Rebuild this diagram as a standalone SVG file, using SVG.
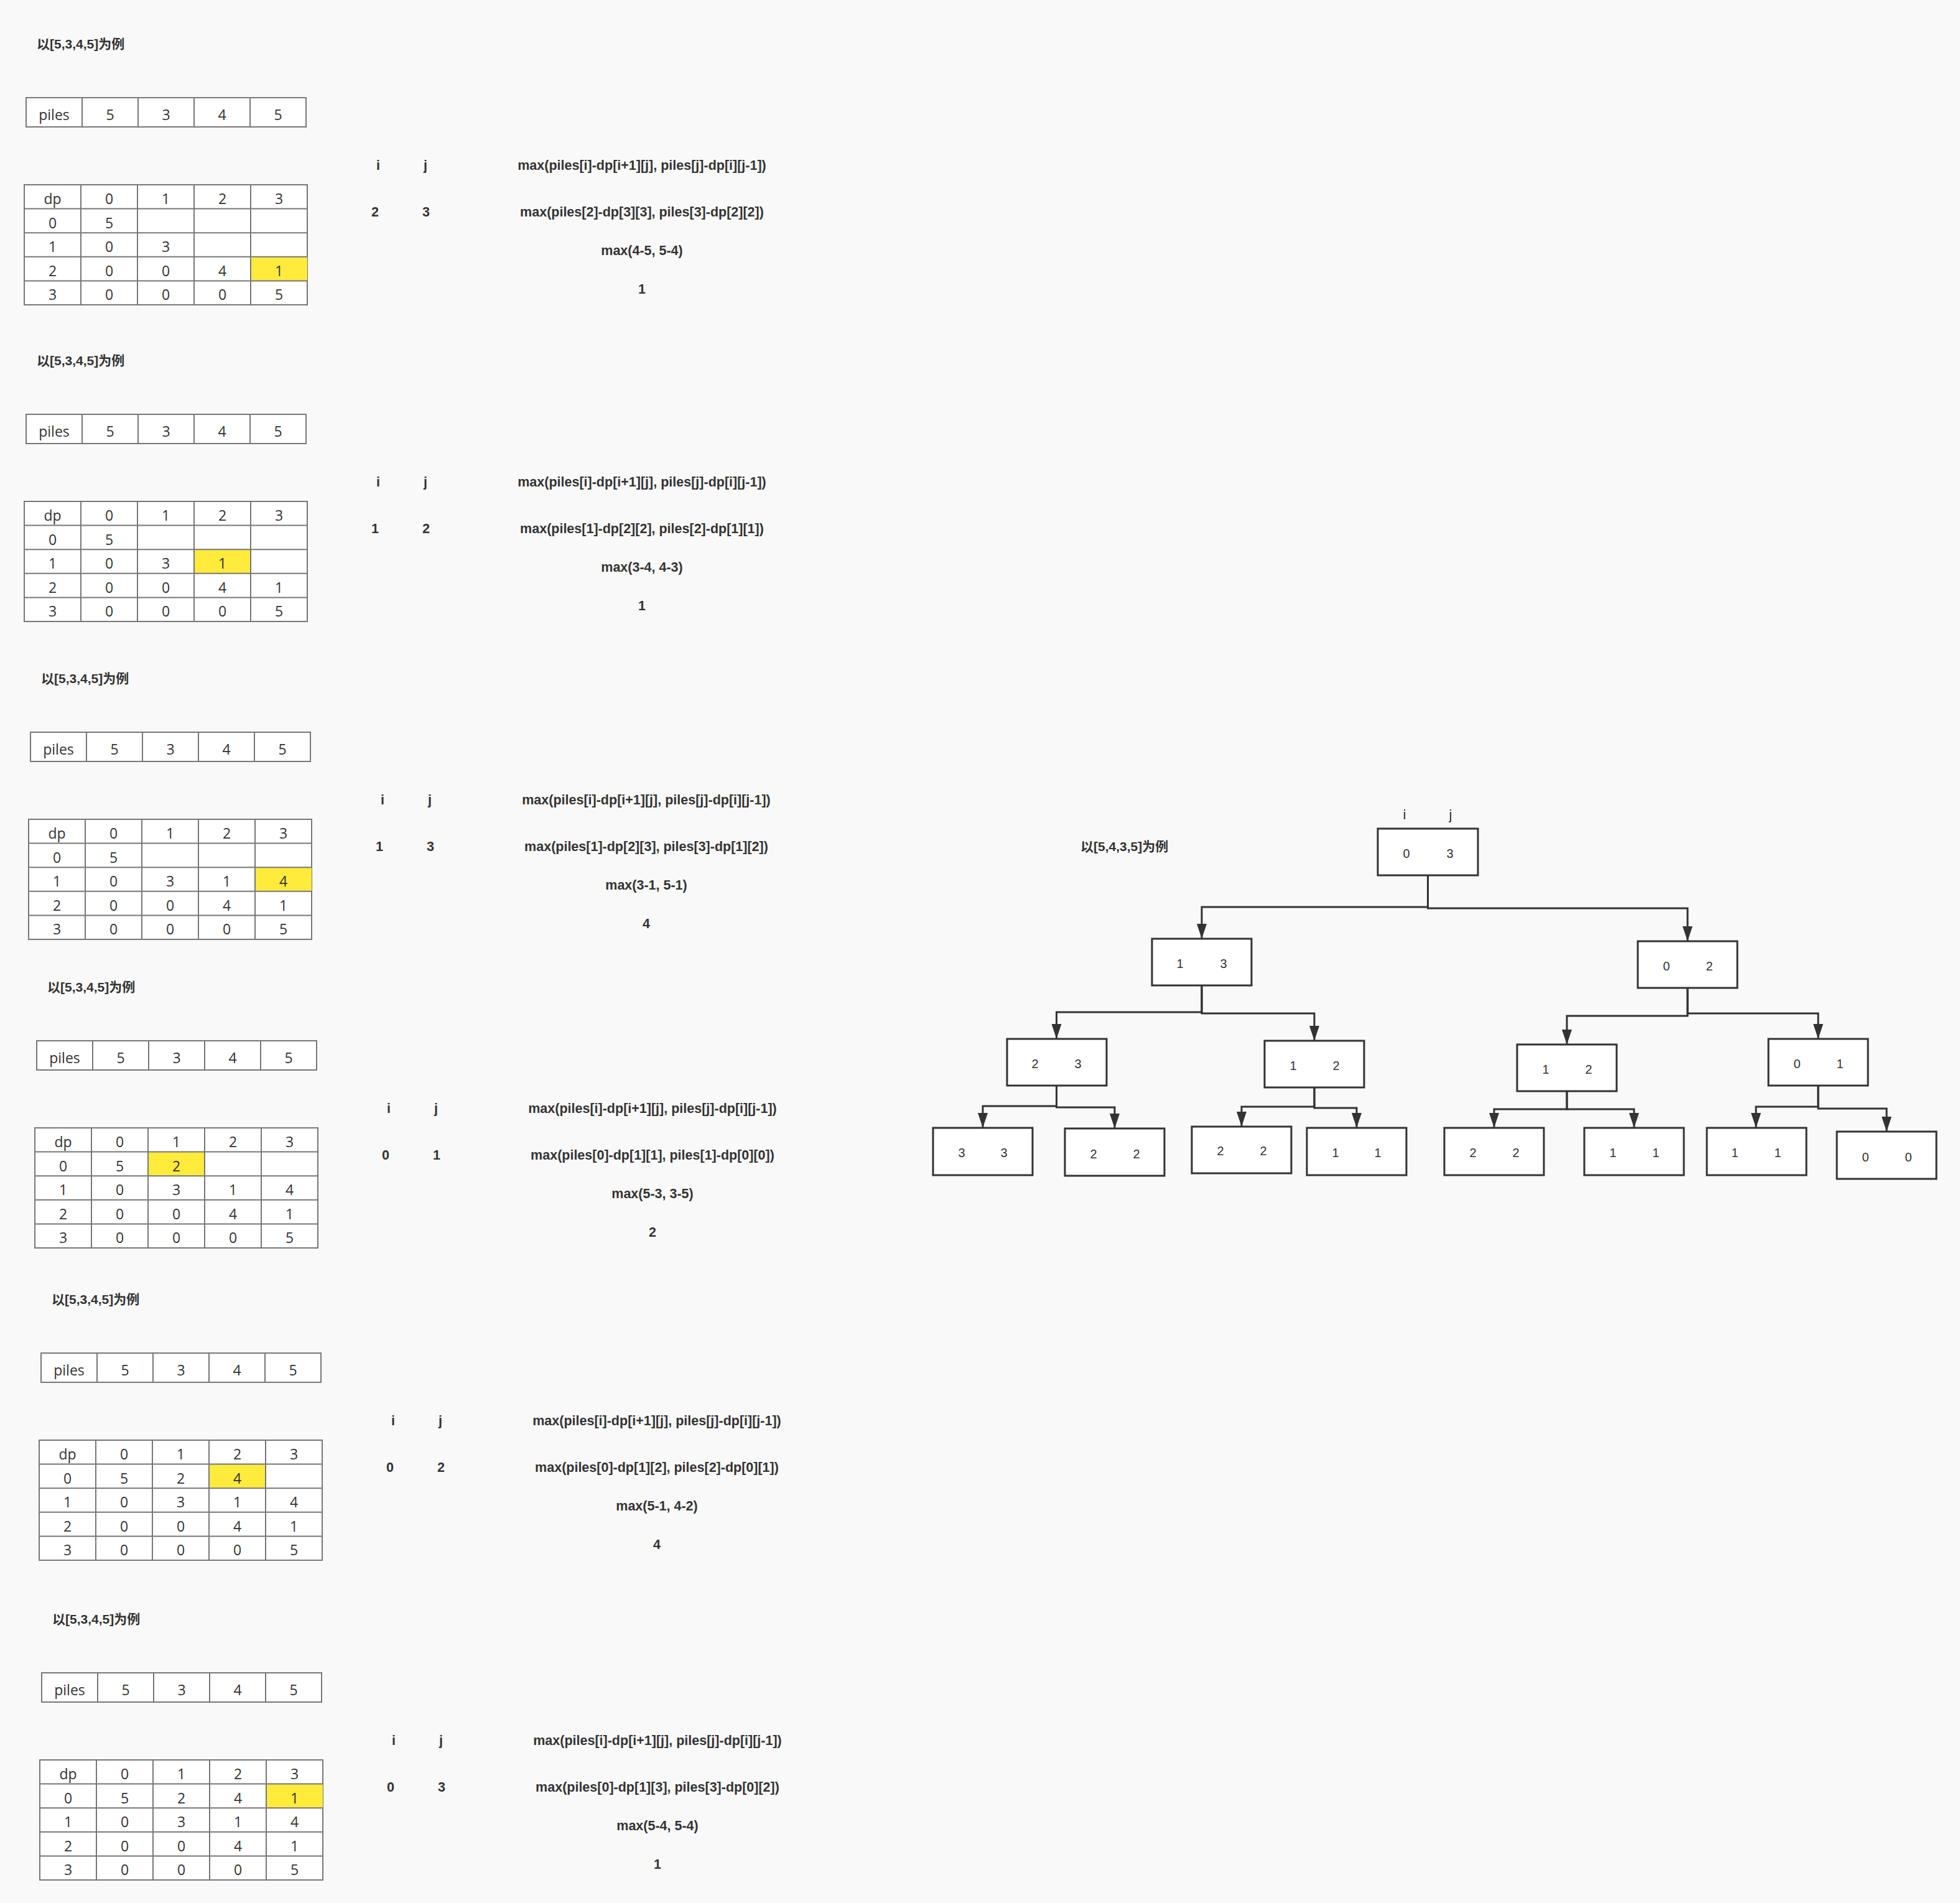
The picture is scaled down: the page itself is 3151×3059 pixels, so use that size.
<svg xmlns="http://www.w3.org/2000/svg" width="3151" height="3059" viewBox="0 0 3151 3059">
<style>
.title{font-family:"Liberation Sans","Noto Sans CJK SC",sans-serif;font-weight:bold;font-size:21px;fill:#333}
.cell{font-family:"Open Sans","Liberation Sans",sans-serif;font-size:23px;fill:#333;text-anchor:middle}
.calc{font-family:"Liberation Sans",sans-serif;font-weight:bold;font-size:21.5px;fill:#333;text-anchor:middle}
.tb{fill:#fff;stroke:#777;stroke-width:2}
.gl{fill:none;stroke:#777;stroke-width:2}
.hl{fill:#ffeb3b}
.nd{fill:#fff;stroke:#333;stroke-width:3}
.tn{font-family:"Liberation Sans",sans-serif;font-size:20px;fill:#333;text-anchor:middle}
.lb{font-family:"Liberation Sans",sans-serif;font-size:22px;fill:#333;text-anchor:middle}
.ed{fill:none;stroke:#333;stroke-width:3}
</style>
<defs>
<marker id="arr" markerUnits="userSpaceOnUse" markerWidth="24" markerHeight="16" viewBox="0 0 24 16" refX="24" refY="8" orient="auto">
<path d="M0,0 L24,8 L0,16 z" fill="#333"/>
</marker>
<g id="pilesTbl">
<rect class="tb" x="42" y="157" width="450" height="47"/>
<path class="gl" d="M132,157V204M222,157V204M312,157V204M402,157V204"/>
<text class="cell" x="87" y="193">piles</text>
<text class="cell" x="177" y="193">5</text>
<text class="cell" x="267" y="193">3</text>
<text class="cell" x="357" y="193">4</text>
<text class="cell" x="447" y="193">5</text>
</g>
<path id="dpGrid" class="gl" d="M130,297V490M221,297V490M312,297V490M403,297V490M39,335.6H494M39,374.2H494M39,412.8H494M39,451.4H494"/>
</defs>
<rect x="0" y="0" width="3151" height="3059" fill="#f9f9f9"/>

<!-- Panel 1 -->
<g id="panel1">
<text class="title" x="59" y="78">以[5,3,4,5]为例</text>
<g id="p1-piles"><use href="#pilesTbl"/></g>
<g id="p1-dp">
<rect class="tb" x="39" y="297" width="455" height="193"/>
<rect class="hl" x="403" y="412.8" width="91" height="38.6"/>
<use href="#dpGrid"/>
<text class="cell" x="84.5" y="328">dp</text>
<text class="cell" x="175.5" y="328">0</text>
<text class="cell" x="266.5" y="328">1</text>
<text class="cell" x="357.5" y="328">2</text>
<text class="cell" x="448.5" y="328">3</text>
<text class="cell" x="84.5" y="366.6">0</text>
<text class="cell" x="175.5" y="366.6">5</text>
<text class="cell" x="84.5" y="405.2">1</text>
<text class="cell" x="175.5" y="405.2">0</text>
<text class="cell" x="266.5" y="405.2">3</text>
<text class="cell" x="84.5" y="443.8">2</text>
<text class="cell" x="175.5" y="443.8">0</text>
<text class="cell" x="266.5" y="443.8">0</text>
<text class="cell" x="357.5" y="443.8">4</text>
<text class="cell" x="448.5" y="443.8">1</text>
<text class="cell" x="84.5" y="482.4">3</text>
<text class="cell" x="175.5" y="482.4">0</text>
<text class="cell" x="266.5" y="482.4">0</text>
<text class="cell" x="357.5" y="482.4">0</text>
<text class="cell" x="448.5" y="482.4">5</text>
</g>
<g id="p1-calc">
<text class="calc" x="608" y="273">i</text>
<text class="calc" x="684" y="273">j</text>
<text class="calc" x="1032" y="273">max(piles[i]-dp[i+1][j], piles[j]-dp[i][j-1])</text>
<text class="calc" x="603" y="348">2</text>
<text class="calc" x="685" y="348">3</text>
<text class="calc" x="1032" y="348">max(piles[2]-dp[3][3], piles[3]-dp[2][2])</text>
<text class="calc" x="1032" y="410">max(4-5, 5-4)</text>
<text class="calc" x="1032" y="472">1</text>
</g>
</g>

<!-- Panel 2 -->
<g id="panel2" transform="translate(0,509)">
<text class="title" x="59" y="78">以[5,3,4,5]为例</text>
<g id="p2-piles"><use href="#pilesTbl"/></g>
<g id="p2-dp">
<rect class="tb" x="39" y="297" width="455" height="193"/>
<rect class="hl" x="312" y="374.2" width="91" height="38.6"/>
<use href="#dpGrid"/>
<text class="cell" x="84.5" y="328">dp</text>
<text class="cell" x="175.5" y="328">0</text>
<text class="cell" x="266.5" y="328">1</text>
<text class="cell" x="357.5" y="328">2</text>
<text class="cell" x="448.5" y="328">3</text>
<text class="cell" x="84.5" y="366.6">0</text>
<text class="cell" x="175.5" y="366.6">5</text>
<text class="cell" x="84.5" y="405.2">1</text>
<text class="cell" x="175.5" y="405.2">0</text>
<text class="cell" x="266.5" y="405.2">3</text>
<text class="cell" x="357.5" y="405.2">1</text>
<text class="cell" x="84.5" y="443.8">2</text>
<text class="cell" x="175.5" y="443.8">0</text>
<text class="cell" x="266.5" y="443.8">0</text>
<text class="cell" x="357.5" y="443.8">4</text>
<text class="cell" x="448.5" y="443.8">1</text>
<text class="cell" x="84.5" y="482.4">3</text>
<text class="cell" x="175.5" y="482.4">0</text>
<text class="cell" x="266.5" y="482.4">0</text>
<text class="cell" x="357.5" y="482.4">0</text>
<text class="cell" x="448.5" y="482.4">5</text>
</g>
<g id="p2-calc">
<text class="calc" x="608" y="273">i</text>
<text class="calc" x="684" y="273">j</text>
<text class="calc" x="1032" y="273">max(piles[i]-dp[i+1][j], piles[j]-dp[i][j-1])</text>
<text class="calc" x="603" y="348">1</text>
<text class="calc" x="685" y="348">2</text>
<text class="calc" x="1032" y="348">max(piles[1]-dp[2][2], piles[2]-dp[1][1])</text>
<text class="calc" x="1032" y="410">max(3-4, 4-3)</text>
<text class="calc" x="1032" y="472">1</text>
</g>
</g>

<!-- Panel 3 -->
<g id="panel3" transform="translate(7,1020)">
<text class="title" x="59" y="78">以[5,3,4,5]为例</text>
<g id="p3-piles"><use href="#pilesTbl"/></g>
<g id="p3-dp">
<rect class="tb" x="39" y="297" width="455" height="193"/>
<rect class="hl" x="403" y="374.2" width="91" height="38.6"/>
<use href="#dpGrid"/>
<text class="cell" x="84.5" y="328">dp</text>
<text class="cell" x="175.5" y="328">0</text>
<text class="cell" x="266.5" y="328">1</text>
<text class="cell" x="357.5" y="328">2</text>
<text class="cell" x="448.5" y="328">3</text>
<text class="cell" x="84.5" y="366.6">0</text>
<text class="cell" x="175.5" y="366.6">5</text>
<text class="cell" x="84.5" y="405.2">1</text>
<text class="cell" x="175.5" y="405.2">0</text>
<text class="cell" x="266.5" y="405.2">3</text>
<text class="cell" x="357.5" y="405.2">1</text>
<text class="cell" x="448.5" y="405.2">4</text>
<text class="cell" x="84.5" y="443.8">2</text>
<text class="cell" x="175.5" y="443.8">0</text>
<text class="cell" x="266.5" y="443.8">0</text>
<text class="cell" x="357.5" y="443.8">4</text>
<text class="cell" x="448.5" y="443.8">1</text>
<text class="cell" x="84.5" y="482.4">3</text>
<text class="cell" x="175.5" y="482.4">0</text>
<text class="cell" x="266.5" y="482.4">0</text>
<text class="cell" x="357.5" y="482.4">0</text>
<text class="cell" x="448.5" y="482.4">5</text>
</g>
<g id="p3-calc">
<text class="calc" x="608" y="273">i</text>
<text class="calc" x="684" y="273">j</text>
<text class="calc" x="1032" y="273">max(piles[i]-dp[i+1][j], piles[j]-dp[i][j-1])</text>
<text class="calc" x="603" y="348">1</text>
<text class="calc" x="685" y="348">3</text>
<text class="calc" x="1032" y="348">max(piles[1]-dp[2][3], piles[3]-dp[1][2])</text>
<text class="calc" x="1032" y="410">max(3-1, 5-1)</text>
<text class="calc" x="1032" y="472">4</text>
</g>
</g>

<!-- Panel 4 -->
<g id="panel4" transform="translate(17,1516)">
<text class="title" x="59" y="78">以[5,3,4,5]为例</text>
<g id="p4-piles"><use href="#pilesTbl"/></g>
<g id="p4-dp">
<rect class="tb" x="39" y="297" width="455" height="193"/>
<rect class="hl" x="221" y="335.6" width="91" height="38.6"/>
<use href="#dpGrid"/>
<text class="cell" x="84.5" y="328">dp</text>
<text class="cell" x="175.5" y="328">0</text>
<text class="cell" x="266.5" y="328">1</text>
<text class="cell" x="357.5" y="328">2</text>
<text class="cell" x="448.5" y="328">3</text>
<text class="cell" x="84.5" y="366.6">0</text>
<text class="cell" x="175.5" y="366.6">5</text>
<text class="cell" x="266.5" y="366.6">2</text>
<text class="cell" x="84.5" y="405.2">1</text>
<text class="cell" x="175.5" y="405.2">0</text>
<text class="cell" x="266.5" y="405.2">3</text>
<text class="cell" x="357.5" y="405.2">1</text>
<text class="cell" x="448.5" y="405.2">4</text>
<text class="cell" x="84.5" y="443.8">2</text>
<text class="cell" x="175.5" y="443.8">0</text>
<text class="cell" x="266.5" y="443.8">0</text>
<text class="cell" x="357.5" y="443.8">4</text>
<text class="cell" x="448.5" y="443.8">1</text>
<text class="cell" x="84.5" y="482.4">3</text>
<text class="cell" x="175.5" y="482.4">0</text>
<text class="cell" x="266.5" y="482.4">0</text>
<text class="cell" x="357.5" y="482.4">0</text>
<text class="cell" x="448.5" y="482.4">5</text>
</g>
<g id="p4-calc">
<text class="calc" x="608" y="273">i</text>
<text class="calc" x="684" y="273">j</text>
<text class="calc" x="1032" y="273">max(piles[i]-dp[i+1][j], piles[j]-dp[i][j-1])</text>
<text class="calc" x="603" y="348">0</text>
<text class="calc" x="685" y="348">1</text>
<text class="calc" x="1032" y="348">max(piles[0]-dp[1][1], piles[1]-dp[0][0])</text>
<text class="calc" x="1032" y="410">max(5-3, 3-5)</text>
<text class="calc" x="1032" y="472">2</text>
</g>
</g>

<!-- Panel 5 -->
<g id="panel5" transform="translate(24,2018)">
<text class="title" x="59" y="78">以[5,3,4,5]为例</text>
<g id="p5-piles"><use href="#pilesTbl"/></g>
<g id="p5-dp">
<rect class="tb" x="39" y="297" width="455" height="193"/>
<rect class="hl" x="312" y="335.6" width="91" height="38.6"/>
<use href="#dpGrid"/>
<text class="cell" x="84.5" y="328">dp</text>
<text class="cell" x="175.5" y="328">0</text>
<text class="cell" x="266.5" y="328">1</text>
<text class="cell" x="357.5" y="328">2</text>
<text class="cell" x="448.5" y="328">3</text>
<text class="cell" x="84.5" y="366.6">0</text>
<text class="cell" x="175.5" y="366.6">5</text>
<text class="cell" x="266.5" y="366.6">2</text>
<text class="cell" x="357.5" y="366.6">4</text>
<text class="cell" x="84.5" y="405.2">1</text>
<text class="cell" x="175.5" y="405.2">0</text>
<text class="cell" x="266.5" y="405.2">3</text>
<text class="cell" x="357.5" y="405.2">1</text>
<text class="cell" x="448.5" y="405.2">4</text>
<text class="cell" x="84.5" y="443.8">2</text>
<text class="cell" x="175.5" y="443.8">0</text>
<text class="cell" x="266.5" y="443.8">0</text>
<text class="cell" x="357.5" y="443.8">4</text>
<text class="cell" x="448.5" y="443.8">1</text>
<text class="cell" x="84.5" y="482.4">3</text>
<text class="cell" x="175.5" y="482.4">0</text>
<text class="cell" x="266.5" y="482.4">0</text>
<text class="cell" x="357.5" y="482.4">0</text>
<text class="cell" x="448.5" y="482.4">5</text>
</g>
<g id="p5-calc">
<text class="calc" x="608" y="273">i</text>
<text class="calc" x="684" y="273">j</text>
<text class="calc" x="1032" y="273">max(piles[i]-dp[i+1][j], piles[j]-dp[i][j-1])</text>
<text class="calc" x="603" y="348">0</text>
<text class="calc" x="685" y="348">2</text>
<text class="calc" x="1032" y="348">max(piles[0]-dp[1][2], piles[2]-dp[0][1])</text>
<text class="calc" x="1032" y="410">max(5-1, 4-2)</text>
<text class="calc" x="1032" y="472">4</text>
</g>
</g>

<!-- Panel 6 -->
<g id="panel6" transform="translate(25,2532)">
<text class="title" x="59" y="78">以[5,3,4,5]为例</text>
<g id="p6-piles"><use href="#pilesTbl"/></g>
<g id="p6-dp">
<rect class="tb" x="39" y="297" width="455" height="193"/>
<rect class="hl" x="403" y="335.6" width="91" height="38.6"/>
<use href="#dpGrid"/>
<text class="cell" x="84.5" y="328">dp</text>
<text class="cell" x="175.5" y="328">0</text>
<text class="cell" x="266.5" y="328">1</text>
<text class="cell" x="357.5" y="328">2</text>
<text class="cell" x="448.5" y="328">3</text>
<text class="cell" x="84.5" y="366.6">0</text>
<text class="cell" x="175.5" y="366.6">5</text>
<text class="cell" x="266.5" y="366.6">2</text>
<text class="cell" x="357.5" y="366.6">4</text>
<text class="cell" x="448.5" y="366.6">1</text>
<text class="cell" x="84.5" y="405.2">1</text>
<text class="cell" x="175.5" y="405.2">0</text>
<text class="cell" x="266.5" y="405.2">3</text>
<text class="cell" x="357.5" y="405.2">1</text>
<text class="cell" x="448.5" y="405.2">4</text>
<text class="cell" x="84.5" y="443.8">2</text>
<text class="cell" x="175.5" y="443.8">0</text>
<text class="cell" x="266.5" y="443.8">0</text>
<text class="cell" x="357.5" y="443.8">4</text>
<text class="cell" x="448.5" y="443.8">1</text>
<text class="cell" x="84.5" y="482.4">3</text>
<text class="cell" x="175.5" y="482.4">0</text>
<text class="cell" x="266.5" y="482.4">0</text>
<text class="cell" x="357.5" y="482.4">0</text>
<text class="cell" x="448.5" y="482.4">5</text>
</g>
<g id="p6-calc">
<text class="calc" x="608" y="273">i</text>
<text class="calc" x="684" y="273">j</text>
<text class="calc" x="1032" y="273">max(piles[i]-dp[i+1][j], piles[j]-dp[i][j-1])</text>
<text class="calc" x="603" y="348">0</text>
<text class="calc" x="685" y="348">3</text>
<text class="calc" x="1032" y="348">max(piles[0]-dp[1][3], piles[3]-dp[0][2])</text>
<text class="calc" x="1032" y="410">max(5-4, 5-4)</text>
<text class="calc" x="1032" y="472">1</text>
</g>
</g>

<!-- Recursion tree -->
<text class="title" x="1737" y="1368">以[5,4,3,5]为例</text>
<text class="lb" x="2258" y="1317">i</text>
<text class="lb" x="2332" y="1317">j</text>

<g id="connectors">
<path class="ed" marker-end="url(#arr)" d="M2295.5,1407V1458H1932V1509"/>
<path class="ed" marker-end="url(#arr)" d="M2295.5,1407V1460H2713V1513"/>
<path class="ed" marker-end="url(#arr)" d="M1932,1584V1627H1698.5V1670"/>
<path class="ed" marker-end="url(#arr)" d="M1932,1584V1629H2113V1673"/>
<path class="ed" marker-end="url(#arr)" d="M2713,1588V1633H2519V1679"/>
<path class="ed" marker-end="url(#arr)" d="M2713,1588V1629H2923V1670"/>
<path class="ed" marker-end="url(#arr)" d="M1698.5,1745V1778H1580V1813"/>
<path class="ed" marker-end="url(#arr)" d="M1698.5,1745V1780H1792V1814"/>
<path class="ed" marker-end="url(#arr)" d="M2113,1748V1779H1996V1811"/>
<path class="ed" marker-end="url(#arr)" d="M2113,1748V1781H2181V1813"/>
<path class="ed" marker-end="url(#arr)" d="M2519,1754V1783H2402V1813"/>
<path class="ed" marker-end="url(#arr)" d="M2519,1754V1783H2627V1813"/>
<path class="ed" marker-end="url(#arr)" d="M2923,1745V1779H2823V1813"/>
<path class="ed" marker-end="url(#arr)" d="M2923,1745V1782H3033V1819"/>
</g>

<g id="n-0-3"><rect class="nd" x="2215" y="1332" width="161" height="75"/><text class="tn" x="2261" y="1379">0</text><text class="tn" x="2331" y="1379">3</text></g>
<g id="n-1-3"><rect class="nd" x="1852" y="1509" width="160" height="75"/><text class="tn" x="1897" y="1556">1</text><text class="tn" x="1967" y="1556">3</text></g>
<g id="n-0-2"><rect class="nd" x="2633" y="1513" width="160" height="75"/><text class="tn" x="2679" y="1560">0</text><text class="tn" x="2748" y="1560">2</text></g>
<g id="n-2-3"><rect class="nd" x="1619" y="1670" width="160" height="75"/><text class="tn" x="1664" y="1717">2</text><text class="tn" x="1733" y="1717">3</text></g>
<g id="n-1-2a"><rect class="nd" x="2033" y="1673" width="160" height="75"/><text class="tn" x="2079" y="1720">1</text><text class="tn" x="2148" y="1720">2</text></g>
<g id="n-1-2b"><rect class="nd" x="2439" y="1679" width="160" height="75"/><text class="tn" x="2485" y="1726">1</text><text class="tn" x="2554" y="1726">2</text></g>
<g id="n-0-1"><rect class="nd" x="2843" y="1670" width="160" height="75"/><text class="tn" x="2889" y="1717">0</text><text class="tn" x="2958" y="1717">1</text></g>
<g id="n-3-3"><rect class="nd" x="1500" y="1813" width="160" height="76"/><text class="tn" x="1546" y="1860">3</text><text class="tn" x="1614" y="1860">3</text></g>
<g id="n-2-2a"><rect class="nd" x="1712" y="1814" width="160" height="76"/><text class="tn" x="1758" y="1862">2</text><text class="tn" x="1827" y="1862">2</text></g>
<g id="n-2-2b"><rect class="nd" x="1916" y="1811" width="160" height="75"/><text class="tn" x="1962" y="1857">2</text><text class="tn" x="2031" y="1857">2</text></g>
<g id="n-1-1a"><rect class="nd" x="2101" y="1813" width="160" height="76"/><text class="tn" x="2147" y="1860">1</text><text class="tn" x="2215" y="1860">1</text></g>
<g id="n-2-2c"><rect class="nd" x="2322" y="1813" width="160" height="76"/><text class="tn" x="2368" y="1860">2</text><text class="tn" x="2437" y="1860">2</text></g>
<g id="n-1-1b"><rect class="nd" x="2547" y="1813" width="160" height="76"/><text class="tn" x="2593" y="1860">1</text><text class="tn" x="2662" y="1860">1</text></g>
<g id="n-1-1c"><rect class="nd" x="2744" y="1813" width="160" height="76"/><text class="tn" x="2789" y="1860">1</text><text class="tn" x="2858" y="1860">1</text></g>
<g id="n-0-0"><rect class="nd" x="2953" y="1819" width="160" height="76"/><text class="tn" x="2999" y="1867">0</text><text class="tn" x="3068" y="1867">0</text></g>
</svg>
